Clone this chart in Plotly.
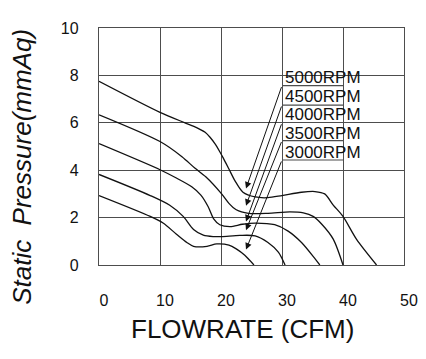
import plotly.graph_objects as go

# ---- data ----
x5000 = [0, 10, 14.1, 16, 17.4, 18.2, 19, 19.8, 20.4, 21.3, 22.3, 23.6, 25.6, 27.7, 30, 33.2, 35.4, 37, 38.4, 40, 42.2, 45.5]
y5000 = [7.75, 6.44, 6.0, 5.8, 5.6, 5.39, 5.12, 4.78, 4.5, 4.05, 3.55, 3.07, 2.87, 2.84, 2.93, 3.07, 3.1, 3.0, 2.53, 2.05, 1.09, 0]

x4500 = [0, 10, 13.6, 15.7, 17.5, 20.1, 21.3, 22.5, 24.5, 27.7, 31.3, 33.5, 35.1, 36.6, 38.4, 40]
y4500 = [6.34, 5.21, 4.57, 4.09, 3.72, 3.0, 2.6, 2.33, 2.18, 2.18, 2.24, 2.2, 2.05, 1.7, 1.09, 0]

x4000 = [0, 10, 12.6, 15.2, 16.7, 17.9, 18.8, 19.8, 21.5, 23.5, 25.6, 28.8, 31, 33.2, 35.4, 36.2]
y4000 = [5.12, 4.02, 3.68, 3.3, 2.95, 2.46, 1.95, 1.7, 1.62, 1.72, 1.77, 1.7, 1.43, 0.95, 0.27, 0]

x3500 = [0, 8.4, 11.6, 13.8, 15.5, 17.1, 18.7, 20.1, 23.1, 25.6, 27.7, 29.4, 30.5]
y3500 = [3.82, 2.93, 2.52, 2.05, 1.5, 1.26, 1.2, 1.2, 1.25, 1.23, 0.95, 0.54, 0]

x3000 = [0, 8.4, 10.5, 12.7, 14.4, 15.5, 17.7, 19.3, 21.3, 22.5, 23.9, 25.4]
y3000 = [2.93, 2.05, 1.77, 1.3, 0.95, 0.79, 0.79, 0.89, 0.84, 0.68, 0.41, 0]

series_names = ["5000RPM", "4500RPM", "4000RPM", "3500RPM", "3000RPM"]
series_x = [x5000, x4500, x4000, x3500, x3000]
series_y = [y5000, y4500, y4000, y3500, y3000]

# labels & leader arrows
label_x = 30.15
label_y = [7.9, 7.12, 6.35, 5.53, 4.75]
box_y = [7.57, 6.75, 5.25, 4.43]
arrow_tail_x = 30
arrow_tail_y = [7.57, 6.75, 6.0, 5.25, 4.43]
arrow_tip_x = 24.1
arrow_tip_y = [3.23, 2.5, 1.84, 1.47, 0.65]

x_ticks = [0, 10, 20, 30, 40, 50]
y_ticks = [0, 2, 4, 6, 8, 10]

GRID = "#4d4d4d"
FONT = "Liberation Sans, Arial, sans-serif"

fig = go.Figure()
for name, xs, ys in zip(series_names, series_x, series_y):
    fig.add_trace(go.Scatter(x=xs, y=ys, mode="lines", name=name,
                             line=dict(color="#111111", width=1.3, shape="spline", smoothing=0.8),
                             hoverinfo="skip", showlegend=False))

# label boxes
for yb in box_y:
    fig.add_shape(type="line", x0=30, x1=40, y0=yb, y1=yb, xref="x", yref="y",
                  line=dict(color=GRID, width=1.2), layer="below")

for name, ly in zip(series_names, label_y):
    fig.add_annotation(x=label_x, y=ly, text=name, showarrow=False, xanchor="left", yanchor="middle",
                       font=dict(family=FONT, size=17, color="#111111"))

for ty, hy in zip(arrow_tail_y, arrow_tip_y):
    fig.add_annotation(x=arrow_tip_x, y=hy, ax=arrow_tail_x, ay=ty, xref="x", yref="y",
                       axref="x", ayref="y", text="", showarrow=True,
                       arrowhead=2, arrowsize=1.3, arrowwidth=1, arrowcolor="#111111")

# axis titles
fig.add_annotation(xref="paper", yref="paper", x=0.472, y=-0.27, text="FLOWRATE (CFM)",
                   showarrow=False, xanchor="center", yanchor="middle",
                   font=dict(family=FONT, size=26, color="#111111"))
fig.add_annotation(xref="paper", yref="paper", x=-0.255, y=0.415,
                   text="<i>Static&nbsp; Pressure(mmAq)</i>", textangle=-90,
                   showarrow=False, xanchor="center", yanchor="middle",
                   font=dict(family=FONT, size=26, color="#111111"))

fig.update_xaxes(range=[0, 50], tickvals=x_ticks, showgrid=True, gridcolor=GRID, gridwidth=1.2,
                 showline=True, linecolor=GRID, linewidth=1.3, mirror=True, zeroline=False,
                 ticks="", ticklabelstandoff=21, ticklabelshift=5,
                 tickfont=dict(family=FONT, size=16, color="#111111"), fixedrange=True)
fig.update_yaxes(range=[0, 10], tickvals=y_ticks, showgrid=True, gridcolor=GRID, gridwidth=1.2,
                 showline=True, linecolor=GRID, linewidth=1.3, mirror=True, zeroline=False,
                 ticks="", ticklabelstandoff=16,
                 tickfont=dict(family=FONT, size=16, color="#111111"), fixedrange=True)

# page body has an 8px default margin, so margins are offset to land the plot area where the reference has it
fig.update_layout(width=426, height=359, margin=dict(l=91, r=30, t=13, b=102),
                  paper_bgcolor="white", plot_bgcolor="white", showlegend=False)

fig.write_html("out.html")
